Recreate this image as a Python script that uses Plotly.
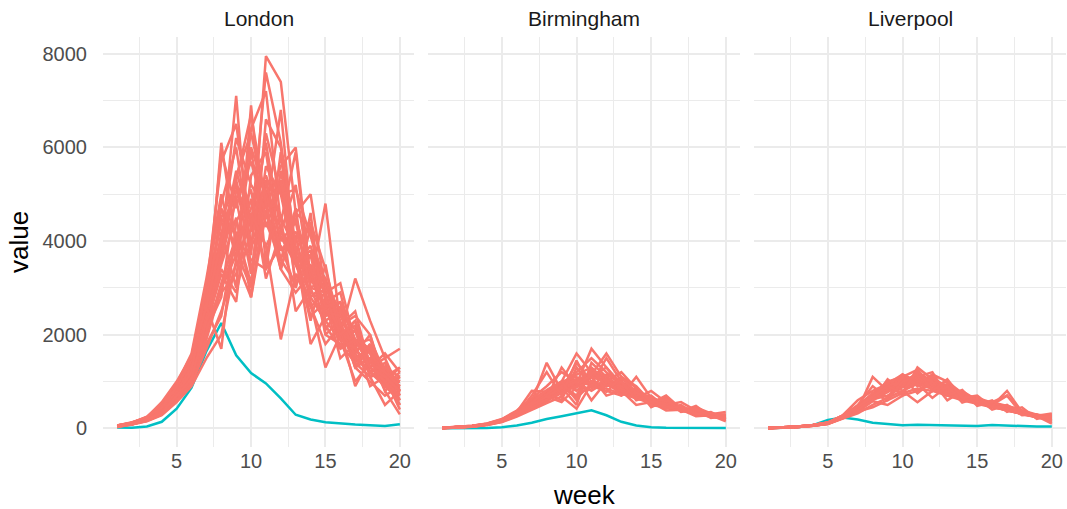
import plotly.graph_objects as go

weeks = list(range(1, 21))
cities = ["London", "Birmingham", "Liverpool"]

london_observed = [20, 15, 40, 140, 420, 870, 1650, 2250, 1560, 1180, 960, 640, 290, 190, 130, 100, 80, 65, 50, 90]
london_sims = [
    [50, 90, 180, 350, 700, 1200, 2300, 6100, 3900, 5900, 4300, 5200, 3100, 3500, 2000, 2300, 1300, 1500, 900, 900],
    [40, 100, 200, 420, 800, 1400, 2600, 3800, 7100, 3300, 5100, 3600, 4700, 2600, 2900, 1700, 2100, 1100, 1300, 600],
    [60, 110, 160, 300, 650, 1100, 2000, 4200, 3000, 6900, 3500, 5900, 3000, 4300, 2100, 2600, 1400, 1800, 800, 1100],
    [50, 80, 220, 400, 900, 1500, 2900, 4500, 5200, 3700, 7950, 7400, 4600, 4300, 2700, 2900, 1600, 2000, 1000, 1300],
    [30, 90, 170, 380, 750, 1300, 2400, 3600, 5300, 4000, 4600, 6800, 3500, 3800, 2400, 2600, 1500, 1700, 1000, 1100],
    [50, 120, 250, 520, 950, 1600, 3200, 5000, 3600, 6400, 7200, 4400, 5900, 3000, 3200, 2000, 2200, 1100, 1200, 500],
    [40, 100, 190, 330, 600, 1000, 1800, 2400, 4200, 3100, 5300, 3400, 4600, 5000, 2900, 3100, 1800, 1600, 900, 1000],
    [60, 130, 230, 460, 880, 1450, 2700, 3900, 5500, 4400, 6100, 4200, 5200, 3100, 4800, 2200, 2500, 1300, 1500, 800],
    [50, 90, 150, 280, 560, 900, 1500, 2000, 3600, 2800, 4600, 3400, 2900, 3300, 2500, 2000, 3200, 2300, 1500, 1700],
    [40, 110, 210, 360, 720, 1250, 2200, 3300, 2700, 5400, 5900, 3800, 4100, 2800, 3100, 1900, 2100, 1200, 1400, 700],
    [50, 100, 180, 350, 800, 1350, 2500, 4700, 3800, 3000, 6600, 6000, 3700, 2400, 2700, 1500, 1800, 900, 1100, 400],
    [30, 80, 160, 320, 680, 1150, 2100, 2800, 5100, 4500, 3900, 1900, 3300, 2600, 1800, 2200, 1300, 1000, 700, 900],
    [50, 110, 200, 450, 850, 1550, 3000, 5700, 6500, 4200, 5300, 4000, 4400, 3000, 2900, 1900, 2300, 1200, 1300, 800],
    [60, 100, 170, 310, 620, 1000, 1900, 3000, 3700, 4900, 3400, 5500, 3800, 1800, 2400, 2700, 1300, 1800, 1100, 1300],
    [40, 90, 200, 390, 760, 1300, 2300, 3500, 4500, 2800, 5000, 4100, 3500, 2700, 1300, 2000, 1500, 1200, 900, 600],
    [50, 120, 240, 480, 920, 1500, 2800, 4100, 6200, 5200, 4700, 5600, 6000, 3200, 2600, 2100, 1600, 1200, 1000, 700],
    [50, 100, 190, 340, 690, 1200, 2200, 3400, 2900, 4300, 7600, 6100, 3900, 2800, 2300, 1900, 1000, 1400, 1200, 1000],
    [40, 90, 170, 330, 640, 1100, 2000, 3100, 4100, 3600, 3400, 3900, 3000, 4600, 2000, 1800, 1400, 1100, 500, 800],
    [60, 110, 220, 410, 820, 1400, 2500, 3700, 5400, 6300, 4900, 4300, 3500, 2900, 2700, 2200, 1700, 1300, 1600, 1200],
    [50, 100, 190, 370, 740, 1250, 2400, 3600, 4900, 5700, 4500, 5300, 3600, 3700, 2300, 2500, 1500, 1700, 1000, 1100],
    [50, 90, 160, 290, 580, 950, 1700, 2500, 3500, 3900, 4400, 3600, 3100, 3700, 3200, 2100, 900, 1500, 800, 300],
    [40, 100, 210, 430, 860, 1500, 2800, 4400, 4900, 3300, 5600, 5000, 5100, 4100, 3100, 2500, 2100, 1600, 1200, 900],
    [50, 110, 180, 360, 700, 1200, 2100, 3000, 3900, 4700, 5400, 4500, 3800, 4400, 3400, 2200, 2400, 2000, 900, 1200],
    [60, 120, 230, 440, 900, 1450, 2600, 1700, 4400, 5100, 3200, 4200, 3600, 2300, 3500, 1900, 1700, 1300, 1000, 500],
    [50, 100, 200, 380, 780, 1300, 2700, 5900, 4700, 6000, 5000, 3800, 4200, 3300, 2500, 2400, 1800, 1900, 1200, 1000],
    [40, 110, 190, 350, 720, 1200, 3100, 4800, 6000, 3800, 6300, 5000, 3500, 3900, 2800, 2000, 2300, 1400, 1200, 900],
    [60, 120, 240, 560, 1000, 1550, 2600, 4000, 5300, 6700, 4800, 3400, 4500, 3400, 2600, 2700, 1900, 1700, 1300, 1100],
    [50, 100, 190, 330, 700, 1050, 2300, 2900, 3300, 4600, 3900, 4500, 2500, 3000, 2200, 1700, 1900, 1300, 1100, 800],
]

birmingham_observed = [2, 3, 5, 10, 25, 60, 120, 200, 260, 320, 385, 280, 140, 60, 25, 15, 10, 10, 8, 8]
birmingham_sims = [
    [10, 20, 40, 80, 150, 300, 480, 700, 1000, 800, 1100, 700, 800, 500, 560, 380, 400, 260, 280, 200],
    [10, 25, 50, 90, 170, 330, 560, 1400, 800, 1000, 1200, 950, 760, 640, 560, 450, 380, 320, 260, 230],
    [15, 20, 45, 85, 160, 310, 520, 650, 1300, 900, 1100, 1000, 800, 700, 580, 470, 400, 330, 280, 240],
    [10, 30, 55, 100, 190, 360, 620, 800, 1000, 1600, 1200, 1050, 850, 720, 600, 500, 420, 350, 300, 260],
    [10, 20, 40, 75, 145, 280, 450, 600, 750, 950, 1700, 1300, 950, 760, 620, 520, 430, 350, 290, 250],
    [5, 20, 35, 70, 140, 270, 420, 560, 900, 650, 950, 1500, 1000, 800, 640, 520, 430, 360, 300, 260],
    [10, 25, 50, 95, 180, 350, 800, 780, 600, 1300, 900, 800, 700, 1100, 650, 520, 430, 340, 270, 220],
    [10, 20, 45, 85, 165, 320, 530, 700, 880, 500, 1400, 1100, 880, 700, 550, 460, 380, 310, 260, 210],
    [15, 30, 55, 105, 200, 380, 640, 900, 1200, 1000, 1100, 1300, 900, 780, 640, 530, 440, 360, 300, 350],
    [10, 20, 40, 80, 150, 300, 490, 660, 820, 980, 800, 1000, 1200, 850, 500, 660, 360, 480, 250, 270],
    [10, 25, 45, 90, 170, 320, 540, 720, 900, 1150, 1300, 1000, 800, 650, 800, 560, 450, 370, 300, 240],
    [5, 15, 35, 70, 135, 250, 400, 540, 680, 420, 950, 850, 750, 640, 540, 700, 420, 340, 280, 230],
    [10, 20, 45, 85, 160, 310, 500, 680, 850, 1050, 900, 1150, 950, 700, 600, 500, 560, 380, 310, 260],
    [10, 25, 50, 100, 185, 360, 590, 760, 950, 1200, 1500, 1200, 980, 800, 650, 540, 450, 370, 300, 250],
    [10, 20, 40, 80, 155, 290, 470, 640, 820, 1400, 1000, 900, 1000, 720, 600, 500, 410, 340, 280, 230],
    [10, 25, 50, 95, 175, 340, 560, 740, 920, 700, 1250, 1100, 850, 680, 560, 460, 380, 310, 250, 200],
    [10, 20, 40, 80, 150, 290, 460, 630, 800, 900, 1000, 900, 1050, 880, 520, 640, 360, 450, 320, 280],
    [15, 25, 50, 90, 175, 330, 550, 730, 900, 1050, 1150, 950, 800, 700, 500, 450, 400, 330, 270, 230],
    [10, 20, 45, 85, 160, 310, 510, 690, 860, 1000, 1100, 1000, 850, 720, 590, 490, 400, 330, 270, 300],
    [10, 25, 50, 90, 170, 330, 530, 720, 1000, 1100, 600, 1000, 900, 750, 620, 510, 420, 340, 280, 150],
    [10, 20, 45, 85, 165, 300, 700, 1200, 700, 1450, 850, 1050, 700, 850, 450, 600, 350, 400, 220, 260],
    [10, 25, 50, 95, 180, 340, 540, 820, 1000, 600, 1250, 900, 1000, 600, 700, 450, 500, 300, 330, 210],
    [5, 20, 40, 80, 150, 280, 450, 620, 760, 900, 1150, 1600, 1100, 900, 560, 620, 380, 420, 250, 230],
    [10, 20, 40, 80, 160, 300, 500, 680, 560, 880, 1000, 780, 1100, 760, 640, 420, 470, 300, 350, 190],
]

liverpool_observed = [5, 10, 25, 70, 180, 230, 190, 120, 85, 65, 75, 70, 55, 45, 50, 70, 55, 45, 40, 40]
liverpool_sims = [
    [10, 20, 35, 60, 110, 250, 400, 1100, 800, 900, 1000, 850, 700, 600, 520, 450, 400, 320, 240, 200],
    [10, 15, 30, 55, 100, 230, 380, 650, 1000, 1100, 1250, 900, 750, 620, 540, 460, 380, 300, 230, 180],
    [10, 20, 40, 70, 120, 270, 450, 700, 850, 1150, 900, 1100, 800, 650, 560, 470, 390, 310, 250, 210],
    [5, 15, 30, 55, 100, 220, 350, 600, 780, 950, 1200, 1000, 850, 680, 570, 480, 800, 350, 260, 220],
    [10, 20, 35, 65, 115, 250, 420, 680, 900, 1050, 1100, 950, 780, 640, 540, 470, 390, 320, 250, 300],
    [10, 20, 40, 70, 125, 280, 480, 750, 950, 700, 1300, 1050, 900, 720, 600, 500, 420, 330, 260, 200],
    [10, 15, 30, 60, 105, 230, 380, 620, 700, 880, 950, 1150, 1000, 700, 580, 490, 410, 330, 260, 210],
    [5, 15, 30, 55, 95, 210, 320, 500, 650, 800, 560, 800, 950, 750, 620, 520, 430, 350, 270, 230],
    [10, 20, 35, 65, 110, 240, 400, 660, 820, 1000, 1050, 900, 780, 800, 600, 500, 420, 340, 270, 250],
    [10, 20, 40, 70, 120, 260, 450, 720, 900, 1100, 1000, 950, 850, 700, 650, 550, 460, 360, 280, 230],
    [10, 20, 35, 60, 110, 240, 390, 650, 800, 950, 1150, 1000, 800, 680, 580, 560, 480, 380, 290, 260],
    [5, 15, 30, 55, 100, 220, 360, 580, 500, 700, 800, 1000, 900, 720, 600, 500, 700, 360, 270, 140],
    [10, 20, 40, 65, 115, 250, 420, 690, 880, 1050, 950, 850, 750, 640, 570, 490, 420, 340, 260, 220],
    [10, 20, 35, 60, 105, 235, 390, 640, 780, 1000, 1100, 1050, 880, 700, 600, 500, 420, 340, 260, 100],
    [10, 15, 30, 60, 110, 240, 400, 680, 1000, 900, 1200, 950, 800, 660, 560, 460, 380, 310, 250, 200],
    [10, 20, 40, 70, 125, 280, 600, 800, 950, 1150, 1000, 1100, 850, 700, 590, 500, 410, 330, 270, 320],
    [5, 15, 30, 55, 100, 220, 360, 450, 600, 750, 850, 800, 700, 620, 540, 460, 380, 310, 240, 190],
    [10, 20, 35, 65, 115, 245, 410, 700, 850, 950, 1050, 900, 1000, 750, 620, 520, 440, 350, 270, 230],
    [10, 20, 40, 70, 120, 255, 430, 720, 900, 1000, 1150, 1000, 830, 690, 590, 510, 430, 350, 280, 240],
    [10, 20, 35, 60, 110, 240, 400, 660, 840, 980, 1080, 920, 790, 660, 570, 480, 410, 330, 260, 210],
    [10, 20, 40, 65, 120, 260, 500, 900, 650, 1100, 750, 1000, 600, 800, 500, 600, 350, 450, 200, 280],
    [5, 15, 35, 60, 110, 230, 420, 600, 1050, 800, 950, 650, 900, 550, 650, 400, 500, 280, 300, 170],
    [10, 20, 35, 65, 115, 250, 450, 750, 600, 1000, 1100, 1200, 700, 820, 480, 560, 700, 300, 250, 230],
    [10, 20, 40, 70, 125, 270, 460, 680, 900, 760, 1250, 800, 1050, 650, 700, 450, 480, 380, 220, 260],
]

y_tickvals = [0, 2000, 4000, 6000, 8000]
y_ticktext = ["0", "2000", "4000", "6000", "8000"]
x_tickvals = [5, 10, 15, 20]
x_ticktext = ["5", "10", "15", "20"]

SIM_COLOR = "#F8766D"
OBS_COLOR = "#00BFC4"

W, H = 1067, 509
panels_px = [(103, 414), (428, 740), (754, 1066)]
top_px, bottom_px = 37, 447

city_data = [
    (london_observed, london_sims),
    (birmingham_observed, birmingham_sims),
    (liverpool_observed, liverpool_sims),
]

fig = go.Figure()
for i, (obs, sims) in enumerate(city_data):
    sfx = "" if i == 0 else str(i + 1)
    fig.add_trace(go.Scatter(x=weeks, y=obs, mode="lines",
                             line=dict(color=OBS_COLOR, width=2.5),
                             xaxis="x" + sfx, yaxis="y" + sfx, showlegend=False))
    for s in sims:
        fig.add_trace(go.Scatter(x=weeks, y=s, mode="lines",
                                 line=dict(color=SIM_COLOR, width=2.5),
                                 xaxis="x" + sfx, yaxis="y" + sfx, showlegend=False))

GRID = "#EBEBEB"
FONT = "Liberation Sans, Arial, sans-serif"
TICKFONT = dict(family=FONT, size=20, color="#4D4D4D")

layout = dict(
    width=W, height=H,
    margin=dict(l=0, r=0, t=0, b=0, autoexpand=False),
    paper_bgcolor="white", plot_bgcolor="white",
    showlegend=False,
)
ydom = [(H - bottom_px) / H, (H - top_px) / H]
for i, (x0, x1) in enumerate(panels_px):
    sfx = "" if i == 0 else str(i + 1)
    layout["xaxis" + sfx] = dict(
        domain=[x0 / W, x1 / W], range=[0.05, 20.95],
        tickvals=x_tickvals, ticktext=x_ticktext,
        showgrid=True, gridcolor=GRID, gridwidth=1.8,
        minor=dict(tickvals=[2.5, 7.5, 12.5, 17.5], showgrid=True, gridcolor=GRID, gridwidth=1.1),
        zeroline=False, showline=False, automargin=False,
        ticks="", ticklen=0,
        tickfont=TICKFONT, anchor="y" + sfx, fixedrange=True,
    )
    layout["yaxis" + sfx] = dict(
        domain=ydom, range=[-398, 8358],
        tickvals=y_tickvals, ticktext=y_ticktext,
        showticklabels=(i == 0),
        showgrid=True, gridcolor=GRID, gridwidth=1.8,
        minor=dict(tickvals=[1000, 3000, 5000, 7000], showgrid=True, gridcolor=GRID, gridwidth=1.1),
        zeroline=False, showline=False, automargin=False,
        ticks="outside" if i == 0 else "", ticklen=11, tickcolor="rgba(0,0,0,0)",
        tickfont=TICKFONT, anchor="x" + sfx, fixedrange=True,
    )
fig.update_layout(**layout)

annotations = []
for i, (x0, x1) in enumerate(panels_px):
    annotations.append(dict(
        text=cities[i], x=(x0 + x1) / 2 / W, y=(H - 18) / H,
        xref="paper", yref="paper", showarrow=False,
        xanchor="center", yanchor="middle",
        font=dict(family=FONT, size=21, color="#1A1A1A"),
    ))
annotations.append(dict(
    text="week", x=584.5 / W, y=(H - 495) / H, xref="paper", yref="paper",
    showarrow=False, xanchor="center", yanchor="middle",
    font=dict(family=FONT, size=26, color="black"),
))
annotations.append(dict(
    text="value", x=19 / W, y=(H - 242) / H, xref="paper", yref="paper",
    showarrow=False, xanchor="center", yanchor="middle", textangle=-90,
    font=dict(family=FONT, size=26, color="black"),
))
fig.update_layout(annotations=annotations)

fig.write_html(
    "out.html",
    config={"displayModeBar": False},
    post_script="document.body.style.margin='0';document.body.style.overflow='hidden';",
)
